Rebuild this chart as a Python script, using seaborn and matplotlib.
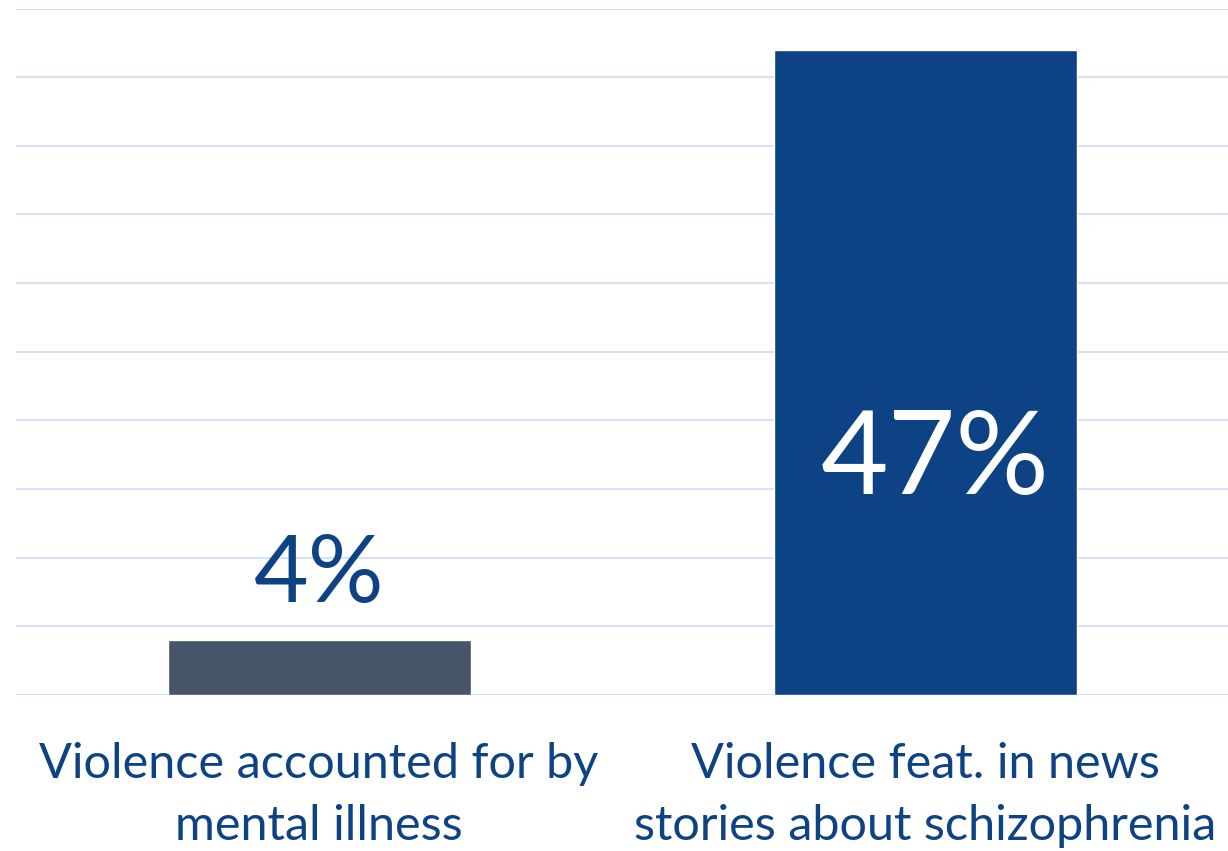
import matplotlib
matplotlib.use("Agg")
import matplotlib.pyplot as plt
import seaborn as sns
import pandas as pd

categories = ["Violence accounted for by\nmental illness",
              "Violence feat. in news\nstories about schizophrenia"]
values = [4, 47]
value_labels = ["4%", "47%"]
bar_colors = ["#465569", "#0D4384"]

TEXT = "#0D4384"
GRID = "#D3E2F6"

sns.set_theme(style="white")
plt.rcParams["font.family"] = ["Lato", "DejaVu Sans"]

df = pd.DataFrame({"cat": categories, "val": values})

fig = plt.figure(figsize=(12.28, 8.51), dpi=100)
ax = fig.add_axes([16 / 1228, (851 - 695) / 851, 1 - 16 / 1228, (695 - 8.5) / 851])

sns.barplot(data=df, x="cat", y="val", hue="cat", palette=bar_colors,
            legend=False, width=0.5, ax=ax, saturation=1, zorder=3)

ax.set_ylim(0, 50)
ax.set_xlim(-0.5, 1.5)
ax.set_yticks(range(0, 51, 5))
ax.set_yticklabels([])
ax.yaxis.grid(True, color=GRID, linewidth=1.5, zorder=0)
ax.set_axisbelow(True)
for s in ax.spines.values():
    s.set_visible(False)
ax.set_xlabel("")
ax.set_ylabel("")
ax.tick_params(axis="x", length=0, pad=34, labelsize=35, labelcolor=TEXT)
ax.tick_params(axis="y", length=0)
for t in ax.get_xticklabels():
    t.set_linespacing(1.5)

# value labels
ax.annotate(value_labels[0], xy=(0, values[0]), xytext=(0, 38),
            textcoords="offset pixels", ha="center", va="baseline",
            fontsize=68, color=TEXT)
ax.annotate(value_labels[1], xy=(1, values[1]), xytext=(10, -412),
            textcoords="offset pixels", ha="center", va="center",
            fontsize=84, color="white")

fig.savefig("out.png", dpi=100)
